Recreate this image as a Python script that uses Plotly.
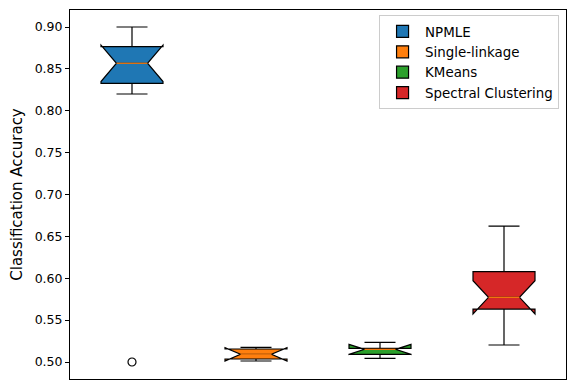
import plotly.graph_objects as go

methods = ["NPMLE", "Single-linkage", "KMeans", "Spectral Clustering"]
positions = [1, 2, 3, 4]
colors = ["#1f77b4", "#ff7f0e", "#2ca02c", "#d62728"]
q1 = [0.8328, 0.5036, 0.5092, 0.5632]
median = [0.8567, 0.5092, 0.5151, 0.5772]
q3 = [0.8765, 0.5155, 0.5163, 0.6078]
whisker_low = [0.8200, 0.5016, 0.5044, 0.5203]
whisker_high = [0.9000, 0.5175, 0.5235, 0.6623]
notch_half = [0.0218, 0.0080, 0.0060, 0.0199]
outlier_pos = [1]
outlier_val = [0.5000]

yticks = [0.50, 0.55, 0.60, 0.65, 0.70, 0.75, 0.80, 0.85, 0.90]

fig = go.Figure()
for i, m in enumerate(methods):
    fig.add_trace(go.Box(
        x=[positions[i]], q1=[q1[i]], median=[median[i]], q3=[q3[i]],
        lowerfence=[whisker_low[i]], upperfence=[whisker_high[i]],
        notched=True, notchspan=[notch_half[i]], notchwidth=0.25,
        width=0.5, whiskerwidth=0.5,
        fillcolor=colors[i], line=dict(color="black", width=1.2),
        name=m, legendgroup=m, boxpoints=False, hoverinfo="skip",
    ))
for i, m in enumerate(methods):
    fig.add_trace(go.Scatter(
        x=[positions[i] - 0.125, positions[i] + 0.125], y=[median[i], median[i]],
        mode="lines", line=dict(color="#ff7f0e", width=1.2), showlegend=False,
        hoverinfo="skip",
    ))
fig.add_trace(go.Scatter(
    x=outlier_pos, y=outlier_val, mode="markers",
    marker=dict(symbol="circle-open", size=8, color="black", line=dict(width=1.2)),
    showlegend=False, hoverinfo="skip",
))

fig.update_layout(
    width=576, height=389,
    margin=dict(l=70, r=10, t=10, b=10),
    plot_bgcolor="white", paper_bgcolor="white",
    font=dict(family="DejaVu Sans", size=12.5, color="black"),
    boxmode="overlay",
    showlegend=True,
    legend=dict(x=0.986, y=0.986, xanchor="right", yanchor="top",
                bordercolor="#cccccc", borderwidth=1, bgcolor="white",
                font=dict(size=13.4), tracegroupgap=0, itemwidth=35),
)
fig.update_xaxes(range=[0.5, 4.5], showticklabels=False, ticks="", showgrid=False,
                 zeroline=False, showline=True, mirror=True, linecolor="black", linewidth=1)
fig.update_yaxes(range=[0.4797, 0.9203], tickvals=yticks,
                 ticktext=[f"{v:.2f}" for v in yticks], ticks="outside", ticklen=4,
                 tickcolor="black", showgrid=False, zeroline=False, showline=True,
                 mirror=True, linecolor="black", linewidth=1,
                 title=dict(text="Classification Accuracy", standoff=8))

fig.write_html("out.html", config={"displayModeBar": False},
               post_script="document.body.style.margin='0';")
